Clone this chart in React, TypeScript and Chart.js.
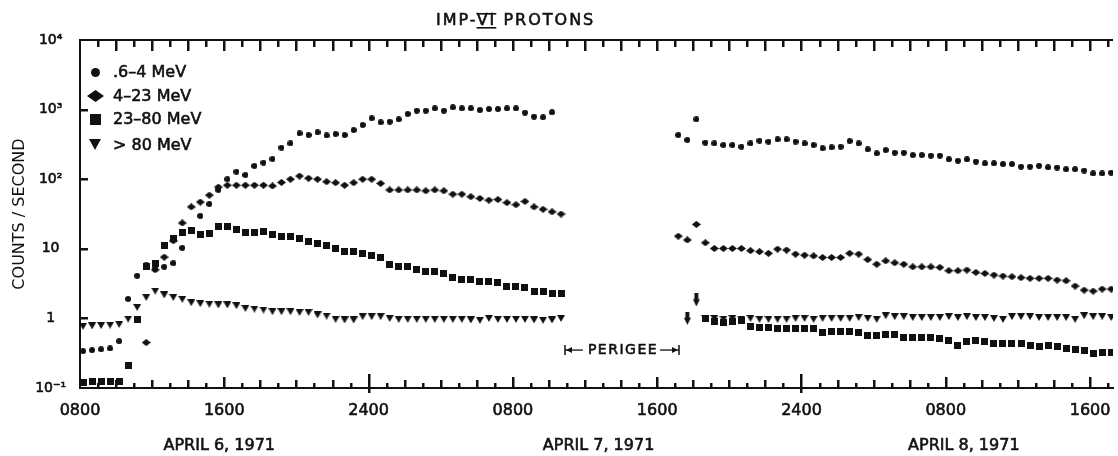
import React, { useEffect, useRef } from 'react';
import { Chart, registerables } from 'chart.js';

Chart.register(...registerables);

const FONT = '"DejaVu Sans", "Liberation Sans", sans-serif';
const INK = '#111111';

// ---- axes ----
const X_MIN = 0;
const X_MAX = 57.27; // hours after 0800 April 6 at the right edge of the picture
const X_TICK_HOURS = [0, 8, 16, 24, 32, 40, 48, 56];
const X_TICK_LABELS = ['0800', '1600', '2400', '0800', '1600', '2400', '0800', '1600'];
const X_MINOR_HOURS = Array.from({ length: 57 }, (_, i) => i + 1); // hourly tick marks
const DATE_HOURS = [7.72, 28.75, 49.0];
const DATE_LABELS = ['APRIL 6, 1971', 'APRIL 7, 1971', 'APRIL 8, 1971'];
const Y_TICKS = [0.1, 1, 10, 100, 1000, 10000];
const Y_TICK_LABELS = ['10⁻¹', '1', '10', '10²', '10³', '10⁴'];
const PERIGEE_START = 26.9;
const PERIGEE_END = 33.2;

// ---- sampling (half-hour samples, two passes separated by perigee) ----
const SEG1_START = 0.17;
const SEG2_START = 33.17;
const STEP = 0.5;

const LABELS = ['.6–4 MeV', '4–23 MeV', '23–80 MeV', '> 80 MeV'];

// .6-4 MeV
const S1_CIRCLES = [0.34, 0.35, 0.36, 0.37, 0.47, 1.9, 4.1, 5.8, 5.2, 5.5, 6.2, 10.3, 18, 29.6, 44, 70, 100, 128, 115, 155, 173, 195, 284, 327, 456, 431, 471, 425, 446, 431, 509, 601, 750, 656, 670, 725, 865, 964, 964, 1043, 964, 1077, 1043, 1043, 986, 1019, 1019, 1043, 1043, 903, 791, 775, 914, null];
const S2_CIRCLES = [431, 366, 725, 335, 327, 310, 310, 293, 327, 357, 346, 374, 374, 346, 327, 310, 278, 287, 293, 353, 327, 268, 235, 262, 240, 240, 222, 222, 218, 218, 193, 184, 193, 179, 169, 169, 165, 165, 151, 151, 156, 148, 147, 139, 139, 133, 121, 121, 124];
// 4-23 MeV
const S1_DIAMONDS = [null, null, null, null, null, null, null, 0.45, 5.0, 7.6, 13, 23.5, 40, 47, 59, 77, 82, 82, 82, 82, 82, 80, 90, 100, 111, 103, 100, 92, 89, 82, 89, 100, 100, 87, 70, 70, 70, 70, 68, 70, 68, 61, 61, 56, 53, 50, 51, 46, 43, 48, 40, 37, 34, 31.6];
const S2_DIAMONDS = [15.2, 13.4, 22.4, 12.2, 10.1, 10.1, 10.1, 10.1, 9.4, 9.1, 8.6, 9.9, 9.6, 8.4, 8.1, 7.9, 7.5, 7.5, 7.5, 8.6, 8.4, 7.0, 6.0, 6.7, 6.3, 6.0, 5.5, 5.5, 5.5, 5.4, 4.84, 4.84, 4.95, 4.58, 4.43, 4.2, 4.06, 3.97, 3.85, 3.76, 3.76, 3.76, 3.56, 3.47, 2.92, 2.55, 2.47, 2.64, 2.64];
// 23-80 MeV
const S1_SQUARES = [0.12, 0.125, 0.125, 0.125, 0.125, 0.21, 0.95, 5.5, 6.2, 11.3, 14, 16.9, 18.6, 15.8, 16.7, 21, 20.7, 19, 17, 17, 18, 15.8, 14.9, 15, 14.1, 12.6, 12, 11, 10.1, 9.1, 9.1, 8.6, 8.1, 7.4, 6.0, 5.65, 5.55, 5.06, 4.68, 4.68, 4.43, 3.88, 3.68, 3.65, 3.37, 3.37, 3.3, 2.92, 2.88, 2.76, 2.47, 2.43, 2.29, 2.29];
const S2_SQUARES = [null, null, 1.84, 1.0, 0.9, 0.88, 0.9, 0.93, 0.76, 0.74, 0.74, 0.72, 0.72, 0.72, 0.72, 0.72, 0.63, 0.64, 0.64, 0.64, 0.63, 0.56, 0.56, 0.59, 0.58, 0.53, 0.53, 0.53, 0.53, 0.52, 0.48, 0.41, 0.46, 0.48, 0.46, 0.44, 0.43, 0.43, 0.43, 0.41, 0.40, 0.41, 0.40, 0.37, 0.36, 0.35, 0.31, 0.32, 0.32];
// > 80 MeV
const S1_TRIANGLES = [0.77, 0.78, 0.79, 0.8, 0.82, 0.98, 1.44, 2.0, 2.47, 2.17, 2.0, 1.88, 1.68, 1.63, 1.6, 1.56, 1.56, 1.52, 1.39, 1.36, 1.32, 1.25, 1.25, 1.25, 1.22, 1.22, 1.12, 1.08, 0.97, 0.95, 0.95, 1.06, 1.06, 1.06, 1.0, 0.97, 0.97, 0.97, 0.97, 0.97, 0.97, 0.97, 0.97, 0.95, 0.94, 1.0, 0.97, 0.97, 0.97, 0.97, 0.95, 0.94, 0.95, 1.0];
const S2_TRIANGLES = [null, 1.0, null, 1.0, 1.0, 0.98, 1.0, 0.98, 1.0, 0.97, 0.97, 0.97, 0.97, 1.0, 1.0, 0.97, 1.0, 1.0, 1.0, 1.0, 1.03, 1.0, 0.97, 1.09, 1.06, 1.06, 1.03, 1.03, 1.03, 1.03, 1.06, 1.03, 1.06, 1.03, 1.03, 1.0, 0.97, 1.06, 1.06, 1.06, 1.03, 1.03, 1.03, 1.03, 0.97, 1.09, 1.06, 1.06, 1.03];

// upper-limit (arrow) samples, by hour
const SQUARE_LIMIT_HOURS = [34.17];
const TRIANGLE_LIMIT_HOURS = [33.67];

type Pt = { x: number; y: number; limit?: boolean };

function buildSeries(seg1: (number | null)[], seg2: (number | null)[], limits: number[] = []): Pt[] {
  const pts: Pt[] = [];
  seg1.forEach((v, i) => {
    if (v != null) pts.push({ x: +(SEG1_START + i * STEP).toFixed(2), y: v });
  });
  seg2.forEach((v, i) => {
    if (v != null) {
      const x = +(SEG2_START + i * STEP).toFixed(2);
      pts.push({ x, y: v, limit: limits.includes(x) });
    }
  });
  return pts;
}

function makeMarker(kind: string, w: number, h: number): HTMLCanvasElement {
  const c = document.createElement('canvas');
  c.width = w;
  c.height = h;
  const g = c.getContext('2d') as CanvasRenderingContext2D;
  g.fillStyle = INK;
  g.beginPath();
  if (kind === 'circle') {
    g.arc(w / 2, h / 2, Math.min(w, h) / 2, 0, Math.PI * 2);
  } else if (kind === 'diamond') {
    g.moveTo(w / 2, 0);
    g.lineTo(w, h / 2);
    g.lineTo(w / 2, h);
    g.lineTo(0, h / 2);
    g.closePath();
  } else if (kind === 'square') {
    g.rect(0, 0, w, h);
  } else if (kind === 'down') {
    g.moveTo(0, 0);
    g.lineTo(w, 0);
    g.lineTo(w / 2, h);
    g.closePath();
  } else if (kind === 'arrow') {
    g.rect(w * 0.22, 0, w * 0.56, h * 0.55);
    g.moveTo(0, h * 0.45);
    g.lineTo(w, h * 0.45);
    g.lineTo(w / 2, h);
    g.closePath();
  }
  g.fill();
  return c;
}

function boldText(ctx: CanvasRenderingContext2D, s: string, x: number, y: number) {
  ctx.fillText(s, x, y);
  ctx.lineWidth = 0.6;
  ctx.strokeText(s, x, y);
}

export default function App() {
  const ref = useRef<HTMLCanvasElement | null>(null);

  useEffect(() => {
    if (!ref.current) return;
    const M = {
      circle: makeMarker('circle', 6, 6),
      diamond: makeMarker('diamond', 9, 7),
      square: makeMarker('square', 7, 7),
      down: makeMarker('down', 8, 7),
      arrow: makeMarker('arrow', 7, 13),
    };
    const LEG = [
      makeMarker('circle', 9, 9),
      makeMarker('diamond', 17, 12),
      makeMarker('square', 11, 11),
      makeMarker('down', 12, 11),
    ];

    const decor = {
      id: 'decor',
      afterDatasetsDraw(chart: any) {
        const ctx: CanvasRenderingContext2D = chart.ctx;
        const a = chart.chartArea;
        const xs = chart.scales.x;
        const ys = chart.scales.y;
        ctx.save();
        ctx.fillStyle = INK;
        ctx.strokeStyle = INK;
        // top frame line
        ctx.fillRect(a.left - 1, a.top - 1, a.right - a.left + 1, 2);
        // inward hour ticks along bottom and top
        X_MINOR_HOURS.forEach((h) => {
          const px = xs.getPixelForValue(h);
          const x = Math.round(px);
          const midnight = (h - 16) % 24 === 0;
          const major = h % 8 === 0;
          const even = h % 2 === 0;
          const lb = midnight ? 14 : major ? 11 : even ? 8 : 5;
          const lt = even ? 11 : 7;
          const below = midnight ? 5 : 0;
          ctx.fillRect(x - 1, a.bottom - lb, 2.5, lb + below);
          ctx.fillRect(x - 1, a.top, 2.5, lt);
        });
        // y decade ticks
        Y_TICKS.slice(1, -1).forEach((v) => {
          const y = Math.round(ys.getPixelForValue(v));
          ctx.fillRect(a.left, y - 1, 8, 2.5);
        });
        ctx.restore();
      },
      afterDraw(chart: any) {
        const ctx: CanvasRenderingContext2D = chart.ctx;
        const a = chart.chartArea;
        const xs = chart.scales.x;
        ctx.save();
        ctx.fillStyle = INK;
        ctx.strokeStyle = INK;

        // legend
        ctx.font = `16px ${FONT}`;
        ctx.textAlign = 'left';
        ctx.textBaseline = 'middle';
        const rows = [32, 55.5, 79, 104.5];
        chart.data.datasets.forEach((ds: any, i: number) => {
          const m = LEG[i];
          const cy = a.top + rows[i];
          ctx.drawImage(m, Math.round(a.left + 15 - m.width / 2), Math.round(cy - m.height / 2));
          boldText(ctx, ds.label, a.left + 33, cy + 1);
        });

        // title
        ctx.font = `16px ${FONT}`;
        (ctx as any).letterSpacing = '2px';
        const tx = 436;
        const ty = 21;
        boldText(ctx, 'IMP-VI PROTONS', tx, ty);
        const pre = ctx.measureText('IMP-').width;
        const vi = ctx.measureText('VI').width;
        ctx.fillRect(tx + pre - 1, ty - 8, vi, 1.6);
        ctx.fillRect(tx + pre - 1, ty + 6, vi, 1.6);
        (ctx as any).letterSpacing = '0px';

        // perigee marker
        const x0 = Math.round(xs.getPixelForValue(PERIGEE_START));
        const x1 = Math.round(xs.getPixelForValue(PERIGEE_END));
        const py = 350;
        ctx.font = `14px ${FONT}`;
        (ctx as any).letterSpacing = '1.5px';
        ctx.textAlign = 'center';
        const label = 'PERIGEE';
        const lw = ctx.measureText(label).width;
        const cx = (x0 + x1) / 2;
        boldText(ctx, label, cx + 1, py);
        (ctx as any).letterSpacing = '0px';
        ctx.fillRect(x0 - 0.75, py - 5, 1.5, 10);
        ctx.fillRect(x1 - 0.75, py - 5, 1.5, 10);
        ctx.fillRect(x0, py - 0.6, cx - lw / 2 - 4 - x0, 1.3);
        ctx.fillRect(cx + lw / 2 + 3, py - 0.6, x1 - (cx + lw / 2 + 3), 1.3);
        ctx.beginPath();
        ctx.moveTo(x0 + 1, py);
        ctx.lineTo(x0 + 7, py - 3);
        ctx.lineTo(x0 + 7, py + 3);
        ctx.closePath();
        ctx.moveTo(x1 - 1, py);
        ctx.lineTo(x1 - 7, py - 3);
        ctx.lineTo(x1 - 7, py + 3);
        ctx.closePath();
        ctx.fill();
        ctx.restore();
      },
    };

    const tickFont = { family: FONT, size: 16 };
    const noSidePad = (s: any) => {
      s.paddingLeft = 0;
      s.paddingRight = 0;
    };

    const chart = new Chart(ref.current, {
      type: 'scatter',
      data: {
        datasets: [
          { label: LABELS[0], data: buildSeries(S1_CIRCLES, S2_CIRCLES), pointStyle: M.circle as any, pointRadius: 3 },
          { label: LABELS[1], data: buildSeries(S1_DIAMONDS, S2_DIAMONDS), pointStyle: M.diamond as any, pointRadius: 3 },
          {
            label: LABELS[2],
            data: buildSeries(S1_SQUARES, S2_SQUARES, SQUARE_LIMIT_HOURS),
            pointStyle: ((c: any) => (c.raw && c.raw.limit ? M.arrow : M.square)) as any,
            pointRadius: 3,
          },
          {
            label: LABELS[3],
            data: buildSeries(S1_TRIANGLES, S2_TRIANGLES, TRIANGLE_LIMIT_HOURS),
            pointStyle: ((c: any) => (c.raw && c.raw.limit ? M.arrow : M.down)) as any,
            pointRadius: 3,
          },
        ] as any,
      },
      options: {
        animation: false,
        responsive: false,
        devicePixelRatio: 1,
        events: [],
        layout: { padding: { top: 40, left: 0, right: 0, bottom: 0 } },
        plugins: {
          legend: { display: false },
          title: { display: false },
          tooltip: { enabled: false },
        },
        scales: {
          x: {
            type: 'linear',
            position: 'bottom',
            weight: 0,
            min: X_MIN,
            max: X_MAX,
            grid: { display: false },
            border: { display: true, color: INK, width: 2 },
            afterBuildTicks: (s: any) => {
              s.ticks = X_TICK_HOURS.map((v) => ({ value: v }));
            },
            afterFit: (s: any) => {
              s.height = 36;
              noSidePad(s);
            },
            ticks: {
              autoSkip: false,
              maxRotation: 0,
              padding: 5,
              color: INK,
              textStrokeColor: INK,
              textStrokeWidth: 0.6,
              font: tickFont,
              callback: (_v: any, i: number) => X_TICK_LABELS[i],
            },
          },
          xDates: {
            type: 'linear',
            position: 'bottom',
            weight: 1,
            min: X_MIN,
            max: X_MAX,
            grid: { display: false },
            border: { display: false },
            afterBuildTicks: (s: any) => {
              s.ticks = DATE_HOURS.map((v) => ({ value: v }));
            },
            afterFit: (s: any) => {
              s.height = 32;
              noSidePad(s);
            },
            ticks: {
              autoSkip: false,
              maxRotation: 0,
              padding: 4,
              color: INK,
              textStrokeColor: INK,
              textStrokeWidth: 0.6,
              font: tickFont,
              callback: (_v: any, i: number) => DATE_LABELS[i],
            },
          },
          y: {
            type: 'logarithmic',
            position: 'left',
            min: 0.1,
            max: 10000,
            grid: { display: false },
            border: { display: true, color: INK, width: 2 },
            afterBuildTicks: (s: any) => {
              s.ticks = Y_TICKS.map((v) => ({ value: v }));
            },
            afterFit: (s: any) => {
              s.width = 80;
            },
            title: {
              display: true,
              text: 'COUNTS / SECOND',
              color: INK,
              font: { family: FONT, size: 16 },
              padding: { top: 10, bottom: 0 },
            },
            ticks: {
              autoSkip: false,
              crossAlign: 'center',
              padding: 6,
              color: INK,
              textStrokeColor: INK,
              textStrokeWidth: 0.6,
              font: { family: FONT, size: 14 },
              callback: (v: any) => {
                const i = Y_TICKS.findIndex((t) => Math.abs(t - Number(v)) < 1e-9);
                return i >= 0 ? Y_TICK_LABELS[i] : '';
              },
            },
          },
        },
      } as any,
      plugins: [decor],
    });
    return () => chart.destroy();
  }, []);

  return (
    <div style={{ position: 'fixed', left: 0, top: 0, width: 1118, height: 456, background: '#fff' }}>
      <canvas ref={ref} width={1118} height={456} style={{ display: 'block', width: 1118, height: 456 }} />
    </div>
  );
}
